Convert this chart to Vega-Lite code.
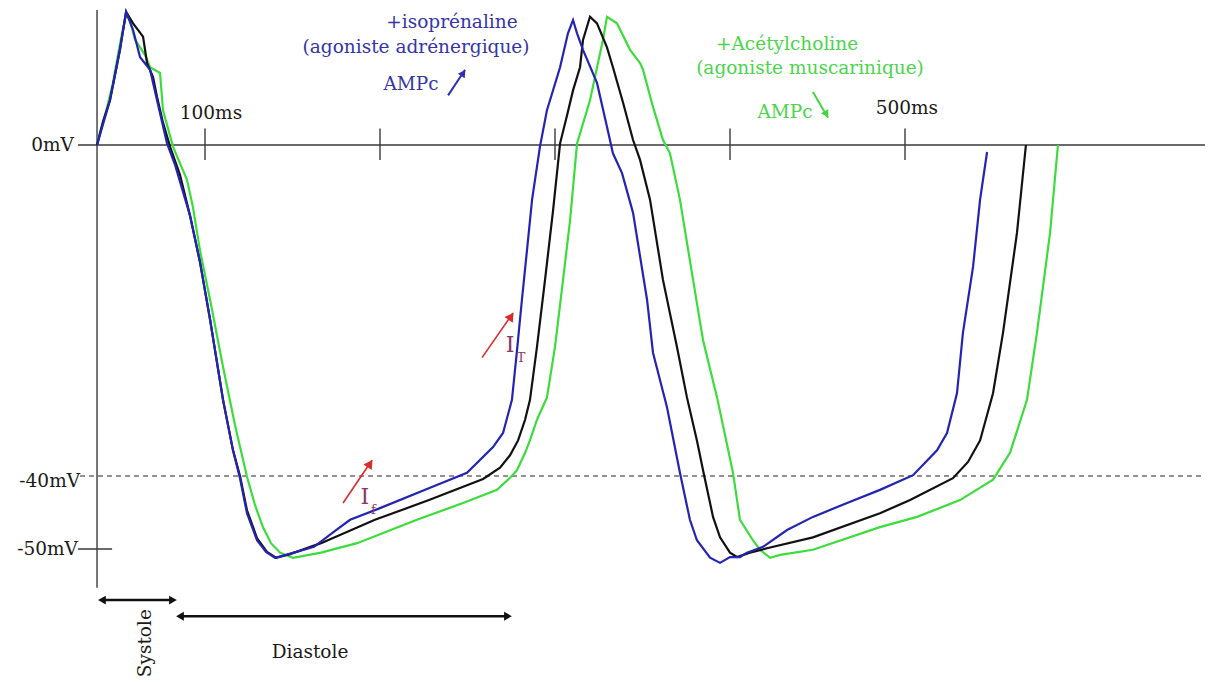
{
  "$schema": "https://vega.github.io/schema/vega-lite/v6.json",
  "width": 1212,
  "height": 682,
  "autosize": {"type": "none"},
  "padding": 0,
  "background": "white",
  "config": {"view": {"stroke": null}},
  "datasets": {
    "curves": [
      {"s":"g","t":38.3,"v":0},{"s":"g","t":40.0,"v":1.5},{"s":"g","t":44.0,"v":4.5},{"s":"g","t":47.4,"v":7.5},{"s":"g","t":50.3,"v":10.9},{"s":"g","t":52.6,"v":13.5},{"s":"g","t":54.9,"v":15.7},{"s":"g","t":57.1,"v":15.1},{"s":"g","t":60.0,"v":12.7},{"s":"g","t":65.7,"v":10.9},{"s":"g","t":68.6,"v":9.4},{"s":"g","t":74.3,"v":8.7},{"s":"g","t":76.0,"v":4.2},{"s":"g","t":81.7,"v":-0.2},{"s":"g","t":89.7,"v":-4.2},{"s":"g","t":93.1,"v":-7.5},{"s":"g","t":97.1,"v":-12.7},{"s":"g","t":102.9,"v":-18.7},{"s":"g","t":110.3,"v":-26.8},{"s":"g","t":117.1,"v":-33.8},{"s":"g","t":124.0,"v":-40.1},{"s":"g","t":128.6,"v":-44.0},{"s":"g","t":133.1,"v":-47.0},{"s":"g","t":137.7,"v":-49.2},{"s":"g","t":142.9,"v":-50.5},{"s":"g","t":150.3,"v":-51.2},{"s":"g","t":166.3,"v":-50.5},{"s":"g","t":186.9,"v":-49.2},{"s":"g","t":221.1,"v":-46.0},{"s":"g","t":247.4,"v":-43.7},{"s":"g","t":266.9,"v":-41.9},{"s":"g","t":274.9,"v":-40.1},{"s":"g","t":278.3,"v":-39.3},{"s":"g","t":282.9,"v":-37.2},{"s":"g","t":285.7,"v":-35.7},{"s":"g","t":289.7,"v":-33.2},{"s":"g","t":295.4,"v":-30.5},{"s":"g","t":300.0,"v":-24.4},{"s":"g","t":304.6,"v":-16.3},{"s":"g","t":308.6,"v":-9.1},{"s":"g","t":312.6,"v":0.2},{"s":"g","t":320.0,"v":5.4},{"s":"g","t":327.4,"v":12.7},{"s":"g","t":329.7,"v":15.5},{"s":"g","t":335.4,"v":14.7},{"s":"g","t":342.9,"v":11.5},{"s":"g","t":348.6,"v":9.9},{"s":"g","t":350.3,"v":9.1},{"s":"g","t":356.0,"v":4.6},{"s":"g","t":361.7,"v":0.6},{"s":"g","t":365.7,"v":-1.0},{"s":"g","t":371.4,"v":-6.6},{"s":"g","t":378.9,"v":-16.3},{"s":"g","t":384.6,"v":-23.6},{"s":"g","t":392.6,"v":-30.5},{"s":"g","t":401.7,"v":-39.6},{"s":"g","t":405.7,"v":-46.0},{"s":"g","t":413.1,"v":-48.8},{"s":"g","t":417.1,"v":-50.1},{"s":"g","t":422.9,"v":-51.2},{"s":"g","t":428.6,"v":-50.8},{"s":"g","t":447.4,"v":-50.1},{"s":"g","t":485.7,"v":-47.0},{"s":"g","t":506.9,"v":-45.6},{"s":"g","t":531.4,"v":-43.3},{"s":"g","t":550.3,"v":-40.5},{"s":"g","t":560.0,"v":-37.2},{"s":"g","t":569.7,"v":-30.8},{"s":"g","t":575.4,"v":-22.7},{"s":"g","t":582.9,"v":-10.6},{"s":"g","t":587.4,"v":0},
      {"s":"k","t":38.3,"v":0},{"s":"k","t":41.7,"v":2.8},{"s":"k","t":45.7,"v":5.4},{"s":"k","t":51.4,"v":11.5},{"s":"k","t":54.9,"v":16.1},{"s":"k","t":58.9,"v":14.7},{"s":"k","t":64.6,"v":13.1},{"s":"k","t":66.9,"v":9.9},{"s":"k","t":70.3,"v":8.2},{"s":"k","t":72.6,"v":5.8},{"s":"k","t":76.0,"v":2.7},{"s":"k","t":80.0,"v":-0.2},{"s":"k","t":85.7,"v":-3.6},{"s":"k","t":91.4,"v":-8.5},{"s":"k","t":97.1,"v":-14.1},{"s":"k","t":102.9,"v":-21.1},{"s":"k","t":110.3,"v":-30.8},{"s":"k","t":116.0,"v":-36.9},{"s":"k","t":120.0,"v":-40.0},{"s":"k","t":124.0,"v":-44.7},{"s":"k","t":129.7,"v":-48.5},{"s":"k","t":135.4,"v":-50.4},{"s":"k","t":140.6,"v":-51.2},{"s":"k","t":148.6,"v":-50.7},{"s":"k","t":166.3,"v":-49.2},{"s":"k","t":197.1,"v":-46.0},{"s":"k","t":228.0,"v":-43.3},{"s":"k","t":258.9,"v":-40.4},{"s":"k","t":268.6,"v":-39.0},{"s":"k","t":274.3,"v":-37.5},{"s":"k","t":278.9,"v":-35.7},{"s":"k","t":282.9,"v":-33.2},{"s":"k","t":285.7,"v":-30.8},{"s":"k","t":289.7,"v":-24.4},{"s":"k","t":294.3,"v":-16.3},{"s":"k","t":298.9,"v":-7.9},{"s":"k","t":302.9,"v":0.2},{"s":"k","t":306.9,"v":3.6},{"s":"k","t":310.3,"v":6.6},{"s":"k","t":314.3,"v":9.4},{"s":"k","t":316.0,"v":12.7},{"s":"k","t":320.0,"v":15.5},{"s":"k","t":324.0,"v":14.7},{"s":"k","t":329.7,"v":11.8},{"s":"k","t":333.1,"v":9.4},{"s":"k","t":338.9,"v":5.1},{"s":"k","t":344.6,"v":0.6},{"s":"k","t":348.6,"v":-1.8},{"s":"k","t":354.3,"v":-6.6},{"s":"k","t":361.7,"v":-16.3},{"s":"k","t":369.7,"v":-24.4},{"s":"k","t":375.4,"v":-30.5},{"s":"k","t":381.1,"v":-35.7},{"s":"k","t":384.6,"v":-39.3},{"s":"k","t":390.3,"v":-45.6},{"s":"k","t":394.3,"v":-48.4},{"s":"k","t":400.0,"v":-50.5},{"s":"k","t":404.0,"v":-51.1},{"s":"k","t":411.4,"v":-50.5},{"s":"k","t":421.1,"v":-49.9},{"s":"k","t":447.4,"v":-48.4},{"s":"k","t":485.7,"v":-45.1},{"s":"k","t":502.9,"v":-43.3},{"s":"k","t":527.4,"v":-40.3},{"s":"k","t":536.0,"v":-38.3},{"s":"k","t":542.9,"v":-35.7},{"s":"k","t":550.3,"v":-30.0},{"s":"k","t":556.0,"v":-22.7},{"s":"k","t":564.0,"v":-10.6},{"s":"k","t":569.1,"v":0},
      {"s":"b","t":38.3,"v":0},{"s":"b","t":45.7,"v":5.4},{"s":"b","t":51.4,"v":11.5},{"s":"b","t":54.9,"v":16.1},{"s":"b","t":58.9,"v":13.9},{"s":"b","t":62.9,"v":10.6},{"s":"b","t":68.6,"v":9.1},{"s":"b","t":72.6,"v":5.4},{"s":"b","t":78.3,"v":0.2},{"s":"b","t":82.9,"v":-2.4},{"s":"b","t":91.4,"v":-8.5},{"s":"b","t":97.1,"v":-14.1},{"s":"b","t":102.9,"v":-21.1},{"s":"b","t":110.3,"v":-30.8},{"s":"b","t":116.0,"v":-36.9},{"s":"b","t":120.0,"v":-40.3},{"s":"b","t":124.0,"v":-45.1},{"s":"b","t":129.7,"v":-48.8},{"s":"b","t":134.9,"v":-50.4},{"s":"b","t":140.0,"v":-51.2},{"s":"b","t":146.3,"v":-50.8},{"s":"b","t":162.3,"v":-49.7},{"s":"b","t":174.9,"v":-47.4},{"s":"b","t":182.9,"v":-46.0},{"s":"b","t":200.0,"v":-44.4},{"s":"b","t":228.6,"v":-41.6},{"s":"b","t":249.7,"v":-39.6},{"s":"b","t":264.6,"v":-36.5},{"s":"b","t":270.3,"v":-34.8},{"s":"b","t":275.4,"v":-30.8},{"s":"b","t":278.3,"v":-24.8},{"s":"b","t":281.1,"v":-18.7},{"s":"b","t":284.0,"v":-12.7},{"s":"b","t":286.9,"v":-6.6},{"s":"b","t":291.4,"v":-0.2},{"s":"b","t":295.4,"v":4.2},{"s":"b","t":302.9,"v":9.4},{"s":"b","t":307.4,"v":13.5},{"s":"b","t":310.3,"v":15.1},{"s":"b","t":312.6,"v":13.5},{"s":"b","t":316.0,"v":11.5},{"s":"b","t":324.0,"v":7.5},{"s":"b","t":329.7,"v":2.2},{"s":"b","t":333.1,"v":-1.0},{"s":"b","t":338.3,"v":-3.4},{"s":"b","t":344.6,"v":-8.2},{"s":"b","t":352.6,"v":-18.7},{"s":"b","t":356.0,"v":-25.1},{"s":"b","t":364.0,"v":-31.7},{"s":"b","t":371.4,"v":-39.6},{"s":"b","t":377.1,"v":-46.0},{"s":"b","t":381.1,"v":-48.8},{"s":"b","t":388.6,"v":-51.2},{"s":"b","t":394.3,"v":-51.9},{"s":"b","t":400.0,"v":-51.1},{"s":"b","t":405.7,"v":-51.1},{"s":"b","t":409.7,"v":-50.5},{"s":"b","t":418.9,"v":-49.7},{"s":"b","t":432.6,"v":-47.4},{"s":"b","t":447.4,"v":-45.6},{"s":"b","t":466.9,"v":-43.7},{"s":"b","t":485.7,"v":-41.9},{"s":"b","t":504.6,"v":-39.9},{"s":"b","t":518.3,"v":-36.9},{"s":"b","t":524.0,"v":-34.8},{"s":"b","t":529.7,"v":-30.0},{"s":"b","t":533.1,"v":-22.7},{"s":"b","t":538.9,"v":-14.7},{"s":"b","t":542.9,"v":-6.6},{"s":"b","t":546.9,"v":-0.85}
    ],
    "axes": [
      {"t":27.4,"v":0,"t2":671.4,"v2":0},
      {"t":38.3,"v":16.3,"t2":38.3,"v2":-55.3},
      {"t":27.4,"v":-50,"t2":46.9,"v2":-50},
      {"t":100,"v":2,"t2":100,"v2":-1.8},
      {"t":200,"v":2,"t2":200,"v2":-1.8},
      {"t":300,"v":2,"t2":300,"v2":-1.8},
      {"t":400,"v":2,"t2":400,"v2":-1.8},
      {"t":500,"v":2,"t2":500,"v2":-1.8}
    ]
  },
  "encoding": {
    "x": {"field":"t","type":"quantitative","scale":{"domain":[100,500],"range":[205,905],"nice":false,"zero":false},"axis":null},
    "y": {"field":"v","type":"quantitative","scale":{"domain":[-50,-40,0],"range":[549,476,145],"nice":false,"zero":false},"axis":null}
  },
  "layer": [
    {"data":{"name":"axes"},"mark":{"type":"rule","color":"#3a3a3a","strokeWidth":1.4},"encoding":{"x2":{"field":"t2"},"y2":{"field":"v2"}}},
    {"data":{"values":[{"t":28.6,"v":-40,"t2":671.4,"v2":-40}]},"mark":{"type":"rule","color":"#222222","strokeWidth":1.2,"strokeDash":[5,4]},"encoding":{"x2":{"field":"t2"},"y2":{"field":"v2"}}},
    {"data":{"name":"curves"},"mark":{"type":"line","strokeWidth":2.2,"interpolate":"linear"},"encoding":{"color":{"field":"s","type":"nominal","scale":{"domain":["g","k","b"],"range":["#3ddc3d","#111111","#2424b4"]},"legend":null}}},
    {"data":{"values":[{"t":41.1,"v":-57,"t2":81.7,"v2":-57},{"t":85.7,"v":-59.2,"t2":273.1,"v2":-59.2}]},"mark":{"type":"rule","color":"#111111","strokeWidth":2.5},"encoding":{"x2":{"field":"t2"},"y2":{"field":"v2"}}},
    {"data":{"values":[{"t":41.1,"v":-57},{"t":85.7,"v":-59.2}]},"mark":{"type":"point","shape":"triangle-left","filled":true,"size":80,"color":"#111111","opacity":1}},
    {"data":{"values":[{"t":81.7,"v":-57},{"t":273.1,"v":-59.2}]},"mark":{"type":"point","shape":"triangle-right","filled":true,"size":80,"color":"#111111","opacity":1}},
    {"data":{"values":[{"t":178.9,"v":-43.7,"t2":195.4,"v2":-38.1},{"t":258.3,"v":-25.7,"t2":276.0,"v2":-20.3}]},"mark":{"type":"rule","color":"#dd2a2a","strokeWidth":1.6},"encoding":{"x2":{"field":"t2"},"y2":{"field":"v2"}}},
    {"data":{"values":[{"t":194.3,"v":-38.5},{"t":274.9,"v":-20.7}]},"mark":{"type":"point","shape":"triangle-up","filled":true,"size":100,"angle":34,"color":"#dd2a2a","opacity":1}},
    {"data":{"values":[{"t":238.9,"v":6.0,"t2":248.6,"v2":9.1}]},"mark":{"type":"rule","color":"#3030b0","strokeWidth":2},"encoding":{"x2":{"field":"t2"},"y2":{"field":"v2"}}},
    {"data":{"values":[{"t":247.6,"v":8.7}]},"mark":{"type":"point","shape":"triangle-up","filled":true,"size":70,"angle":34,"color":"#3030b0","opacity":1}},
    {"data":{"values":[{"t":447.4,"v":6.4,"t2":456.0,"v2":3.3}]},"mark":{"type":"rule","color":"#44d444","strokeWidth":2},"encoding":{"x2":{"field":"t2"},"y2":{"field":"v2"}}},
    {"data":{"values":[{"t":455.1,"v":3.7}]},"mark":{"type":"point","shape":"triangle-up","filled":true,"size":70,"angle":150,"color":"#44d444","opacity":1}},
    {"data":{"values":[{"t":25.1,"v":0,"label":"0mV"},{"t":28.6,"v":-40.7,"label":"-40mV"},{"t":27.4,"v":-50,"label":"-50mV"}]},"mark":{"type":"text","align":"right","baseline":"middle","font":"DejaVu Serif","fontSize":18.5,"color":"#1a1a1a"},"encoding":{"text":{"field":"label"}}},
    {"data":{"values":[{"t":103.4,"v":3.9,"label":"100ms"},{"t":501.1,"v":4.5,"label":"500ms"},{"t":160,"v":-64.1,"label":"Diastole"}]},"mark":{"type":"text","align":"center","baseline":"middle","font":"DejaVu Serif","fontSize":18.5,"color":"#1a1a1a"},"encoding":{"text":{"field":"label"}}},
    {"data":{"values":[{"t":65.7,"v":-62.9,"label":"Systole"}]},"mark":{"type":"text","align":"center","baseline":"middle","angle":270,"font":"DejaVu Serif","fontSize":18.5,"color":"#1a1a1a"},"encoding":{"text":{"field":"label"}}},
    {"data":{"values":[{"t":241.1,"v":14.9,"label":"+isoprénaline"},{"t":220.6,"v":11.8,"label":"(agoniste adrénergique)"},{"t":217.7,"v":7.4,"label":"AMPc"}]},"mark":{"type":"text","align":"center","baseline":"middle","font":"DejaVu Serif","fontSize":18.5,"color":"#3535a8"},"encoding":{"text":{"field":"label"}}},
    {"data":{"values":[{"t":432.6,"v":12.2,"label":"+Acétylcholine"},{"t":445.7,"v":9.3,"label":"(agoniste muscarinique)"},{"t":431.4,"v":4.0,"label":"AMPc"}]},"mark":{"type":"text","align":"center","baseline":"middle","font":"DejaVu Serif","fontSize":18.5,"color":"#4cd44c"},"encoding":{"text":{"field":"label"}}},
    {"data":{"values":[{"t":191.4,"v":-42.9,"label":"I"},{"t":274.3,"v":-24.2,"label":"I"}]},"mark":{"type":"text","align":"center","baseline":"middle","font":"DejaVu Serif","fontSize":22,"color":"#8a3a5e"},"encoding":{"text":{"field":"label"}}},
    {"data":{"values":[{"t":196.3,"v":-44.7,"label":"f"},{"t":280.6,"v":-25.7,"label":"T"}]},"mark":{"type":"text","align":"center","baseline":"middle","font":"DejaVu Serif","fontSize":13,"color":"#8a3a5e"},"encoding":{"text":{"field":"label"}}}
  ]
}
